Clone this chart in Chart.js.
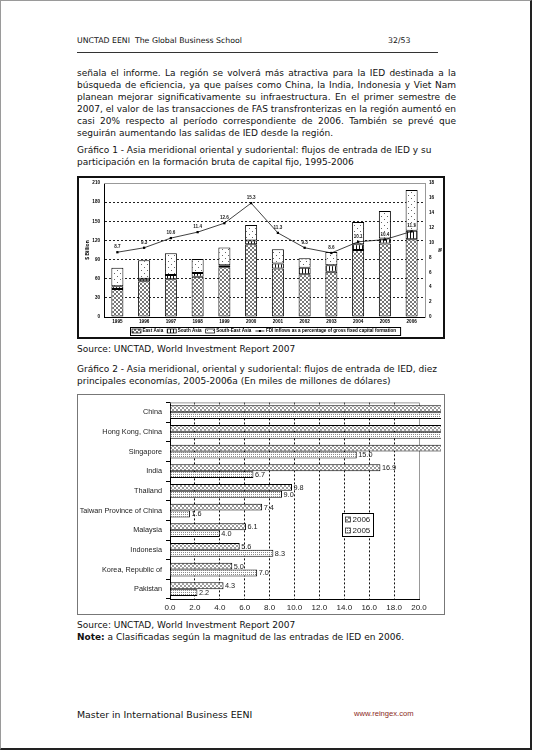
<!DOCTYPE html>
<html>
<head>
<meta charset="utf-8">
<script src="https://cdn.jsdelivr.net/npm/chart.js@4.4.0/dist/chart.umd.min.js"></script>
<style>
  html,body{margin:0;padding:0;background:#fff;}
  #page{position:absolute;left:0;top:0;width:529px;height:747px;border-left:1px solid #9a9a9a;border-top:1px solid #9a9a9a;border-right:2px solid #222;border-bottom:2px solid #222;background:#fff;overflow:hidden;}
  .t{position:absolute;left:76px;font-family:"DejaVu Sans",Verdana,sans-serif;font-size:9px;line-height:12px;color:#111;white-space:nowrap;}
  .hdr{font-size:7.8px;}
  .j{width:379px;text-align:justify;text-align-last:justify;white-space:normal;}
  .rule{position:absolute;left:76px;top:51px;width:361px;height:1px;background:#333;}
  canvas{position:absolute;}
</style>
</head>
<body>
<div id="page">
  <div class="t hdr" style="top:34px;">UNCTAD EENI&nbsp; The Global Business School</div>
  <div class="t hdr" style="top:34px;left:387px;">32/53</div>
  <div class="rule"></div>

  <div class="t j" style="top:66px;">señala el informe. La región se volverá más atractiva para la IED destinada a la</div>
  <div class="t j" style="top:78px;">búsqueda de eficiencia, ya que países como China, la India, Indonesia y Viet Nam</div>
  <div class="t j" style="top:90px;">planean mejorar significativamente su infraestructura. En el primer semestre de</div>
  <div class="t j" style="top:102px;">2007, el valor de las transacciones de FAS transfronterizas en la región aumentó en</div>
  <div class="t j" style="top:114px;">casi 20% respecto al período correspondiente de 2006. También se prevé que</div>
  <div class="t" style="top:126px;">seguirán aumentando las salidas de IED desde la región.</div>

  <div class="t" style="top:143px;">Gráfico 1 - Asia meridional oriental y sudoriental: flujos de entrada de IED y su</div>
  <div class="t" style="top:155px;">participación en la formación bruta de capital fijo, 1995-2006</div>

  <canvas id="c1" width="368" height="163" style="left:76px;top:175px;"></canvas>

  <div class="t" style="top:342px;">Source: UNCTAD, World Investment Report 2007</div>

  <div class="t" style="top:362px;">Gráfico 2 - Asia meridional, oriental y sudoriental: flujos de entrada de IED, diez</div>
  <div class="t" style="top:374px;">principales economías, 2005-2006a (En miles de millones de dólares)</div>

  <canvas id="c2" width="368" height="221" style="left:76px;top:393px;"></canvas>

  <div class="t" style="top:618px;">Source: UNCTAD, World Investment Report 2007</div>
  <div class="t" style="top:630px;"><b>Note:</b> a Clasificadas según la magnitud de las entradas de IED en 2006.</div>

  <div class="t" style="top:707px;font-size:9.4px;line-height:14px;">Master in International Business EENI</div>
  <div class="t" style="top:707px;left:353px;font-family:'Liberation Sans',Arial,sans-serif;font-size:7.6px;line-height:12px;color:#8b2a1a;">www.reingex.com</div>
</div>

<script>
// ---------- Chart 1 data ----------
const years = ['1995','1996','1997','1998','1999','2000','2001','2002','2003','2004','2005','2006'];
const eastAsia      = [44, 56, 59, 63, 78, 114, 76, 67, 71, 105, 115, 122];
const southAsia     = [4, 4, 7, 6, 3, 6, 8, 10, 10, 9, 8, 13];
const southEastAsia = [29, 29, 34, 22, 28, 24, 22, 15, 21, 35, 43, 64];
const fdiShareGfcf  = [8.7, 9.3, 10.6, 11.4, 12.6, 15.3, 11.3, 9.3, 8.6, 10.1, 10.4, 11.5];
const seriesNames1  = ['East Asia', 'South Asia', 'South-East Asia', 'FDI inflows as a percentage of gross fixed capital formation'];
const billionTicks  = [0, 30, 60, 90, 120, 150, 180, 210];
const percentTicks  = [0, 2, 4, 6, 8, 10, 12, 14, 16, 18];

// ---------- Chart 2 data ----------
const economies = ['China', 'Hong Kong, China', 'Singapore', 'India', 'Thailand', 'Taiwan Province of China', 'Malaysia', 'Indonesia', 'Korea, Republic of', 'Pakistan'];
const inflows2006 = [69.5, 42.9, 24.2, 16.9, 9.8, 7.4, 6.1, 5.6, 5.0, 4.3];
const inflows2005 = [72.4, 33.6, 15.0, 6.7, 9.0, 1.6, 4.0, 8.3, 7.0, 2.2];
const seriesNames2 = ['2006', '2005'];
const valueTicks2 = [0, 2, 4, 6, 8, 10, 12, 14, 16, 18, 20];

Chart.defaults.font.family = "'Liberation Sans', Arial, sans-serif";
Chart.defaults.color = '#000';

function makePattern(ctx, w, h, fg, pts) {
  const c = document.createElement('canvas');
  c.width = w; c.height = h;
  const x = c.getContext('2d');
  x.fillStyle = '#fff'; x.fillRect(0, 0, w, h);
  x.fillStyle = fg;
  pts.forEach(p => x.fillRect(p[0], p[1], 1, 1));
  return ctx.createPattern(c, 'repeat');
}

const ctx1 = document.getElementById('c1').getContext('2d');
const ctx2 = document.getElementById('c2').getContext('2d');
const crossPts = [[0,0],[1,1],[2,2],[3,3],[3,0],[2,1],[1,2],[0,3]];
const pCross1 = makePattern(ctx1, 4, 4, '#777', crossPts);
const pVert1  = makePattern(ctx1, 3, 1, '#111', [[0,0]]);
const pDots1  = makePattern(ctx1, 6, 6, '#666', [[1,1],[4,4]]);
const pCross2 = makePattern(ctx2, 4, 4, '#9c9c9c', crossPts);
const pDots2  = makePattern(ctx2, 2, 2, '#8a8a8a', [[0,0]]);

function fixTicks(arr) { return function(scale) { scale.ticks = arr.map(v => ({ value: v })); }; }

// ---------- Chart 1 plugins ----------
const frame1 = {
  id: 'frame1',
  beforeDatasetsDraw(chart) {
    const a = chart.chartArea, c = chart.ctx;
    c.save(); c.strokeStyle = '#999'; c.lineWidth = 1;
    c.beginPath(); c.moveTo(a.left, a.top + 0.5); c.lineTo(a.right, a.top + 0.5); c.stroke();
    c.restore();
  },
  afterDraw(chart) {
    const c = chart.ctx;
    c.save(); c.strokeStyle = '#111'; c.lineWidth = 2;
    c.strokeRect(1, 1, chart.width - 2, chart.height - 2);
    // legend
    const items = chart.data.datasets;
    c.font = "bold 4.6px 'Liberation Sans', Arial, sans-serif";
    c.textBaseline = 'middle';
    const y0 = 151, h = 8, ym = y0 + h / 2;
    let x = 55;
    items.forEach((ds, i) => {
      if (ds.type === 'line') {
        c.strokeStyle = '#000'; c.lineWidth = 0.8;
        c.beginPath(); c.moveTo(x, ym); c.lineTo(x + 9, ym); c.stroke();
        c.fillStyle = '#000'; c.fillRect(x + 3.5, ym - 1, 2, 2);
      } else {
        c.fillStyle = ds.backgroundColor; c.fillRect(x, ym - 2, 9, 4);
        c.strokeStyle = '#000'; c.lineWidth = 0.7; c.strokeRect(x, ym - 2, 9, 4);
      }
      x += 10.5;
      c.fillStyle = '#000'; c.fillText(ds.label, x, ym);
      x += c.measureText(ds.label).width + 4;
    });
    c.strokeStyle = '#000'; c.lineWidth = 1;
    c.strokeRect(53.5, y0 + 0.5, x - 53, h);
    c.restore();
  },
  afterDatasetsDraw(chart) {
    const c = chart.ctx;
    const idx = chart.data.datasets.findIndex(d => d.type === 'line');
    const meta = chart.getDatasetMeta(idx);
    c.save();
    c.font = "bold 4.6px 'Liberation Sans', Arial, sans-serif";
    c.textAlign = 'center'; c.textBaseline = 'bottom';
    c.fillStyle = '#222';
    meta.data.forEach((pt, i) => {
      c.fillText(chart.data.datasets[idx].data[i].toFixed(1), pt.x, pt.y - 3);
    });
    c.restore();
  }
};

const tickFont1 = { size: 4.6, weight: 'bold' };

new Chart(ctx1, {
  type: 'bar',
  data: {
    labels: years,
    datasets: [
      { label: seriesNames1[0], data: eastAsia, backgroundColor: pCross1, borderColor: '#000', borderWidth: 1, borderSkipped: false, order: 1 },
      { label: seriesNames1[1], data: southAsia, backgroundColor: pVert1, borderColor: '#000', borderWidth: 1, borderSkipped: false, order: 1 },
      { label: seriesNames1[2], data: southEastAsia, backgroundColor: pDots1, borderColor: '#000', borderWidth: 1, borderSkipped: false, order: 1 },
      { type: 'line', label: seriesNames1[3], data: fdiShareGfcf, yAxisID: 'y1', borderColor: '#111', borderWidth: 0.8,
        pointStyle: 'rect', pointRadius: 1.6, pointBackgroundColor: '#000', pointBorderColor: '#000', pointBorderWidth: 0, tension: 0, order: 0 }
    ]
  },
  options: {
    responsive: false, animation: false, events: [],
    layout: { padding: { top: 7, left: 0, right: 0, bottom: 0 } },
    plugins: { legend: { display: false }, tooltip: { enabled: false } },
    datasets: { bar: { categoryPercentage: 1, barPercentage: 0.45 } },
    scales: {
      x: {
        stacked: true,
        grid: { display: false, drawTicks: false, tickLength: 0 },
        border: { color: '#000', width: 1 },
        ticks: { font: tickFont1, color: '#000', padding: 2, maxRotation: 0, autoSkip: false },
        afterFit(s) { s.height = 22; }
      },
      y: {
        stacked: true, position: 'left', min: 0, max: 210,
        afterBuildTicks: fixTicks(billionTicks),
        grid: { drawTicks: false, lineWidth: 1,
          color: c => (c.tick && (c.tick.value === 0 || c.tick.value === 210)) ? 'rgba(0,0,0,0)' : '#222' },
        border: { color: '#000', width: 1, dash: [2, 2] },
        ticks: { font: tickFont1, color: '#000', padding: 4 },
        title: { display: true, text: '$ Billion', font: { size: 5, weight: 'bold' }, padding: { top: 8, bottom: 0 } },
        afterFit(s) { s.width = 27; }
      },
      y1: {
        position: 'right', min: 0, max: 18,
        afterBuildTicks: fixTicks(percentTicks),
        grid: { display: true, drawOnChartArea: false, drawTicks: false },
        border: { color: '#999', width: 1 },
        ticks: { font: tickFont1, color: '#000', padding: 4 },
        title: { display: true, text: '%', font: { size: 5, weight: 'bold' }, padding: { top: 3, bottom: 0 } },
        afterFit(s) { s.width = 20; }
      }
    }
  },
  plugins: [frame1]
});

// ---------- Chart 2 ----------
const frame2 = {
  id: 'frame2',
  beforeDatasetsDraw(chart) {
    const a = chart.chartArea, c = chart.ctx;
    c.save(); c.strokeStyle = '#999'; c.lineWidth = 1;
    c.beginPath();
    c.moveTo(a.left, a.top + 0.5); c.lineTo(a.right + 0.5, a.top + 0.5); c.lineTo(a.right + 0.5, a.bottom);
    c.stroke(); c.restore();
  },
  afterDatasetsDraw(chart) {
    const c = chart.ctx, xs = chart.scales.x;
    c.save();
    c.font = "7.3px 'Liberation Sans', Arial, sans-serif";
    c.textBaseline = 'middle'; c.textAlign = 'left'; c.fillStyle = '#222';
    chart.data.datasets.forEach((ds, di) => {
      const meta = chart.getDatasetMeta(di);
      meta.data.forEach((bar, i) => {
        const v = ds.data[i];
        if (v <= xs.max) c.fillText(v.toFixed(1), bar.x + 1.5, bar.y + 0.5);
      });
    });
    c.restore();
  },
  afterDraw(chart) {
    const c = chart.ctx, xs = chart.scales.x, ys = chart.scales.y;
    c.save();
    c.strokeStyle = '#777'; c.lineWidth = 1;
    c.strokeRect(0.5, 0.5, chart.width - 1, chart.height - 1);
    // legend box placed inside plot area
    const lx = Math.round(xs.getPixelForValue(13.8)) + 0.5;
    const ly = Math.round(ys.getPixelForValue(5) + 2) + 0.5;
    const w = 31, h = 23;
    c.fillStyle = '#fff'; c.fillRect(lx, ly, w, h);
    c.strokeStyle = '#000'; c.strokeRect(lx, ly, w, h);
    c.font = "8px 'Liberation Sans', Arial, sans-serif";
    c.textBaseline = 'middle';
    chart.data.datasets.forEach((ds, i) => {
      const cy = ly + 6 + i * 11;
      c.fillStyle = ds.backgroundColor; c.fillRect(lx + 3, cy - 2.5, 5, 5);
      c.strokeStyle = '#333'; c.lineWidth = 0.8; c.strokeRect(lx + 3, cy - 2.5, 5, 5);
      c.fillStyle = '#222'; c.fillText(ds.label, lx + 10, cy + 0.5);
    });
    c.restore();
  }
};

new Chart(ctx2, {
  type: 'bar',
  data: {
    labels: economies,
    datasets: [
      { label: seriesNames2[0], data: inflows2006, backgroundColor: pCross2, borderColor: '#000', borderWidth: 1, borderSkipped: 'start',
        clip: { left: 0, top: 0, right: 22, bottom: 0 } },
      { label: seriesNames2[1], data: inflows2005, backgroundColor: pDots2, borderColor: '#000', borderWidth: 1, borderSkipped: 'start',
        clip: { left: 0, top: 0, right: 22, bottom: 0 } }
    ]
  },
  options: {
    indexAxis: 'y',
    responsive: false, animation: false, events: [],
    layout: { padding: { top: 4, left: 0, right: 26, bottom: 0 } },
    plugins: { legend: { display: false }, tooltip: { enabled: false } },
    datasets: { bar: { categoryPercentage: 0.7, barPercentage: 1 } },
    scales: {
      x: {
        min: 0, max: 20,
        afterBuildTicks: fixTicks(valueTicks2),
        grid: { drawTicks: false, lineWidth: 1,
          color: c => (c.tick && (c.tick.value === 0 || c.tick.value === 20)) ? 'rgba(0,0,0,0)' : '#111' },
        border: { color: '#000', width: 1, dash: [2, 2] },
        ticks: { font: { size: 8 }, color: '#222', padding: 4, callback: v => Number(v).toFixed(1), maxRotation: 0, autoSkip: false },
        afterFit(s) { s.height = 16; }
      },
      y: {
        grid: { drawOnChartArea: false, drawTicks: true, tickLength: 4, color: '#000', offset: true },
        border: { color: '#000', width: 1 },
        ticks: { font: { size: 7.3 }, color: '#222', padding: 4, autoSkip: false },
        afterFit(s) { s.width = 93; }
      }
    }
  },
  plugins: [frame2]
});
</script>
</body>
</html>
